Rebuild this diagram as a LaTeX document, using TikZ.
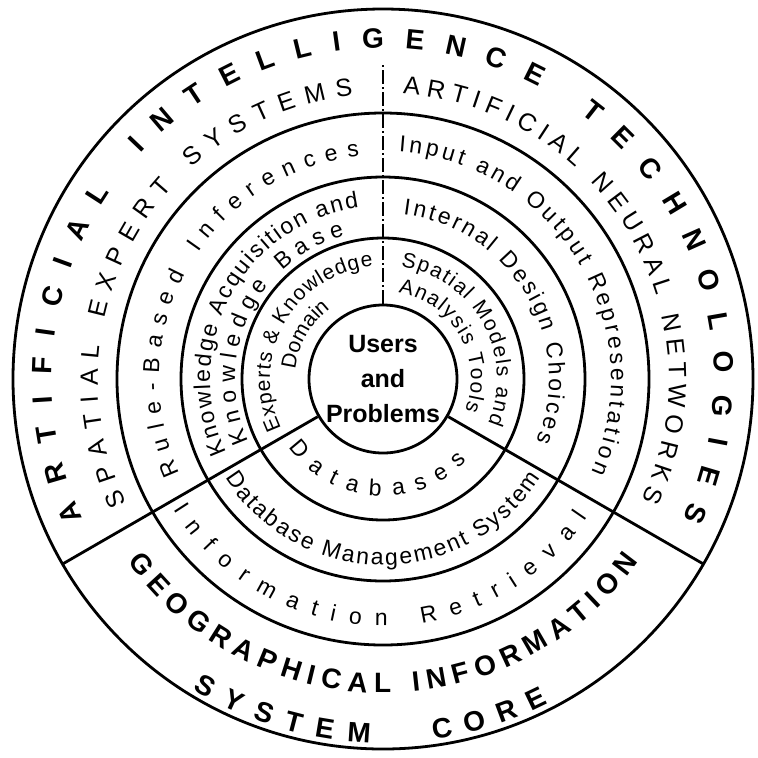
\documentclass[tikz,border=0pt]{standalone}
\usepackage{fontspec}
\setmainfont{Liberation Sans}
\usetikzlibrary{decorations.text}

\newcommand{\aifont}{\fontsize{14}{16}\selectfont\bfseries}
\newcommand{\capsfont}{\fontsize{12.5}{14}\selectfont}
\newcommand{\ringfont}{\fontsize{11.5}{14}\selectfont}
\newcommand{\hubfont}{\fontsize{10.5}{13}\selectfont}

\tikzset{
    ring/.style={
        draw,
        line width=1.4pt
    },
    divider/.style={
        draw,
        line width=1.4pt
    },
    dashdivider/.style={
        draw,
        line width=1.4pt,
        dash pattern=on 7pt off 1.5pt on 1pt off 1.5pt
    },
    hub/.style={
        circle,
        draw,
        line width=1.4pt,
        inner sep=0pt,
        minimum size=74pt,
        align=center,
        font=\fontsize{12.5}{17.5}\selectfont\bfseries
    },
    % text set along an arc
    arctext/.style={
        decorate,
        decoration={text along path, text align=fit to path, text={#1}}
    },
    arcmid/.style={
        decorate,
        decoration={text along path, text align=center, text={#1}}
    },
}

\begin{document}
\begin{tikzpicture}[x=0.5pt, y=0.5pt]
    \useasboundingbox (-383,-378) rectangle (375,379);

    \node[hub] (users) at (0,0) {Users\\and\\Problems};
    \foreach \r in {141,202,266,370}
        \draw[ring] (0,0) circle (\r);

    \coordinate (topend) at (90:316);
    \coordinate (leftend) at (210:370);
    \coordinate (rightend) at (330:370);
    \draw[dashdivider] (users.north) -- (topend);
    \draw[divider] (users.210) -- (leftend);
    \draw[divider] (users.330) -- (rightend);

    % outer band
    \path[arctext={|\aifont|ARTIFICIAL INTELLIGENCE TECHNOLOGIES}] (205:331) arc[start angle=205, end angle=-25, radius=331];
    \path[arctext={|\capsfont|SPATIAL EXPERT SYSTEMS}] (206:285) arc[start angle=206, end angle=96, radius=285];
    \path[arctext={|\capsfont|ARTIFICIAL NEURAL NETWORKS}] (86:286) arc[start angle=86, end angle=-25, radius=286];

    % left sector
    \path[arctext={|\ringfont|Rule-Based Inferences}] (205:224) arc[start angle=205, end angle=96, radius=224];
    \path[arctext={|\ringfont|Knowledge Acquisition and}] (205:173) arc[start angle=205, end angle=98, radius=173];
    \path[arctext={|\ringfont|Knowledge Base}] (205:148) arc[start angle=205, end angle=105, radius=148];
    \path[arctext={|\hubfont|Experts {\&} Knowledge}] (206:113) arc[start angle=206, end angle=95, radius=113];
    \path[arcmid={|\hubfont|Domain}] (206:88) arc[start angle=206, end angle=95, radius=88];

    % right sector
    \path[arctext={|\ringfont|Input and Output Representation}] (86:228) arc[start angle=86, end angle=-24, radius=228];
    \path[arctext={|\ringfont|Internal Design Choices}] (83:166) arc[start angle=83, end angle=-22, radius=166];
    \path[arctext={|\hubfont|Spatial Models and}] (81:114) arc[start angle=81, end angle=-23, radius=114];
    \path[arctext={|\hubfont|Analysis Tools}] (80:88) arc[start angle=80, end angle=-21, radius=88];

    % bottom sector
    \path[arctext={|\ringfont|Databases}] (216:117) arc[start angle=216, end angle=316, radius=117];
    \path[arctext={|\ringfont|Database Management System}] (212:186) arc[start angle=212, end angle=328, radius=186];
    \path[arctext={|\ringfont|Information Retrieval}] (212:247) arc[start angle=212, end angle=326, radius=247];
    \path[arctext={|\aifont|GEOGRAPHICAL INFORMATION}] (215.5:314) arc[start angle=215.5, end angle=324.5, radius=314];
    \path[arctext={|\aifont|SYSTEM}] (238.5:364) arc[start angle=238.5, end angle=268, radius=364];
    \path[arctext={|\aifont|CORE}] (278:364) arc[start angle=278, end angle=297, radius=364];
\end{tikzpicture}
\end{document}
